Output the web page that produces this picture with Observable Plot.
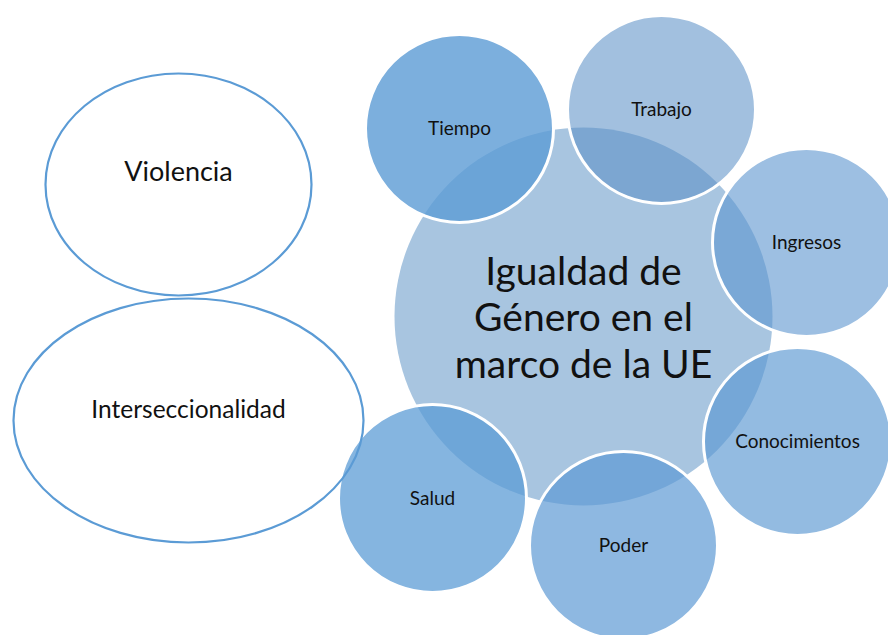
<!DOCTYPE html>
<html>
<head>
<meta charset="utf-8">
<script src="https://cdn.jsdelivr.net/npm/d3@7"></script>
<script src="https://cdn.jsdelivr.net/npm/@observablehq/plot@0.6"></script>
<style>
  html, body { margin: 0; padding: 0; background: #fff; }
  #chart { width: 888px; height: 635px; }
</style>
</head>
<body>
<div id="chart"></div>
<script>
// ---- data (pixel-space coordinates of the diagram) ----
const centralLabel = ["Igualdad de\nGénero en el\nmarco de la UE"];
const centralX = [583];
const centralY = [316];
const centralR = [189];

const satelliteLabels = ["Tiempo", "Trabajo", "Ingresos", "Conocimientos", "Poder", "Salud"];
const satelliteX = [459, 661, 806, 797, 623, 432];
const satelliteY = [128, 109, 242, 441, 545, 498];
const satelliteR = [94, 94, 94, 94, 94, 94];
const satelliteFill = ["#5b9bd5", "#5a8fc6", "#5b95cf", "#5b98d2", "#5b98d3", "#5b9bd5"];
const satelliteOpacity = [0.8, 0.56, 0.6, 0.66, 0.69, 0.74];

const ovalLabels = ["Violencia", "Interseccionalidad"];
const ovalX = [178, 188];
const ovalY = [184, 420];
const ovalRx = [133, 175];
const ovalRy = [111, 122];
const ovalLabelY = [172, 410];
const ovalFontSize = [27, 24.5];

// ---- build tables ----
const central = centralLabel.map((t, i) => ({label: t, x: centralX[i], y: centralY[i], r: centralR[i]}));
const satellites = satelliteLabels.map((t, i) => ({
  label: t, x: satelliteX[i], y: satelliteY[i], r: satelliteR[i],
  fill: satelliteFill[i], opacity: satelliteOpacity[i]
}));
const ovals = ovalLabels.map((t, i) => ({
  label: t, x: ovalX[i], y: ovalY[i], rx: ovalRx[i], ry: ovalRy[i], ly: ovalLabelY[i], fs: ovalFontSize[i]
}));

// custom ellipse symbol: size = pi*r^2 with r = ry, width scaled by aspect
function ellipseSymbol(aspect) {
  const k = 0.5522847498;
  return {
    draw(context, size) {
      const ry = Math.sqrt(size / Math.PI);
      const rx = ry * aspect;
      context.moveTo(rx, 0);
      context.bezierCurveTo(rx, k * ry, k * rx, ry, 0, ry);
      context.bezierCurveTo(-k * rx, ry, -rx, k * ry, -rx, 0);
      context.bezierCurveTo(-rx, -k * ry, -k * rx, -ry, 0, -ry);
      context.bezierCurveTo(k * rx, -ry, rx, -k * ry, rx, 0);
      context.closePath();
    }
  };
}

const font = "Lato, 'Open Sans', sans-serif";

const marks = [];
// central circle
marks.push(Plot.dot(central, {x: "x", y: "y", r: "r", fill: "#a8c5e0", stroke: "none", sort: null}));
// satellites
satellites.forEach(s => {
  marks.push(Plot.dot([s], {
    x: "x", y: "y", r: "r", fill: s.fill, fillOpacity: s.opacity,
    stroke: "white", strokeWidth: 3
  }));
});
// ovals (outline only, drawn on top)
ovals.forEach(o => {
  marks.push(Plot.dot([o], {
    x: "x", y: "y", r: "ry",
    symbol: ellipseSymbol(o.rx / o.ry),
    fill: "none", stroke: "#5b9bd5", strokeWidth: 2.2
  }));
});
// labels
marks.push(Plot.text(central, {
  x: "x", y: "y", text: "label", fontSize: 39, lineHeight: 1.19,
  fill: "#111", fontFamily: font
}));
marks.push(Plot.text(satellites, {
  x: "x", y: "y", text: "label", fontSize: 19, fill: "#111", fontFamily: font
}));
ovals.forEach(o => {
  marks.push(Plot.text([o], {
    x: "x", y: "ly", text: "label", fontSize: o.fs, fill: "#111", fontFamily: font
  }));
});

const chart = Plot.plot({
  width: 888,
  height: 635,
  margin: 0,
  x: {domain: [0, 888], range: [0, 888], axis: null},
  y: {domain: [0, 635], range: [0, 635], axis: null},
  r: {type: "identity"},
  style: {background: "white", overflow: "hidden"},
  marks
});
document.getElementById("chart").appendChild(chart);
</script>
</body>
</html>
